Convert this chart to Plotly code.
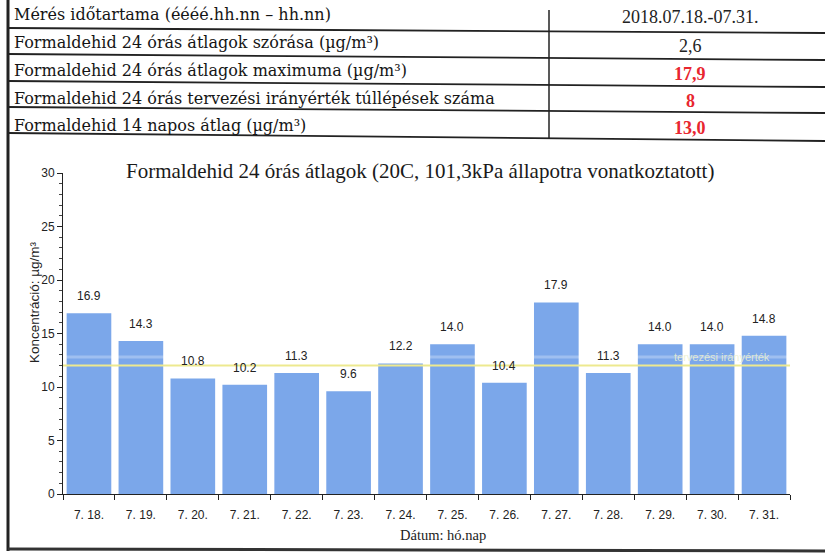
import plotly.graph_objects as go

# ---- data ----
dates = ["7. 18.", "7. 19.", "7. 20.", "7. 21.", "7. 22.", "7. 23.", "7. 24.",
         "7. 25.", "7. 26.", "7. 27.", "7. 28.", "7. 29.", "7. 30.", "7. 31."]
values = [16.9, 14.3, 10.8, 10.2, 11.3, 9.6, 12.2, 14.0, 10.4, 17.9, 11.3, 14.0, 14.0, 14.8]
guide_value = 12.0        # tervezési irányérték
avg14_value = 12.8        # faint 14-day average band

table_labels = [
    "Mérés időtartama (éééé.hh.nn – hh.nn)",
    "Formaldehid 24 órás átlagok szórása (µg/m³)",
    "Formaldehid 24 órás átlagok maximuma (µg/m³)",
    "Formaldehid 24 órás tervezési irányérték túllépések száma",
    "Formaldehid 14 napos átlag (µg/m³)",
]
table_values = ["2018.07.18.-07.31.", "2,6", "17,9", "8", "13,0"]
table_value_colors = ["#222222", "#222222", "#e8262f", "#e8262f", "#e8262f"]

# ---- geometry helpers (pixel -> paper) ----
W, H = 825, 559
L, R, T, B = 63, 35, 173, 65
PW, PH = W - L - R, H - T - B

def px(x):
    return (x - L) / PW

def py(y):
    return (H - B - y) / PH

serif = "Liberation Serif, DejaVu Serif, serif"
wserif = "DejaVu Serif, serif"
sans = "Liberation Sans, Arial, sans-serif"

fig = go.Figure()
fig.add_trace(go.Bar(
    x=dates, y=values,
    marker=dict(color="#7ba7ea", line=dict(width=0)),
    hoverinfo="x+y",
))

annotations = []
# data labels
for d, v in zip(dates, values):
    annotations.append(dict(x=d, y=v, xref="x", yref="y", text=f"{v:.1f}",
                            showarrow=False, yanchor="bottom", yshift=8,
                            font=dict(family=sans, size=12, color="#222")))

# table text
label_y = [14, 43, 71, 98, 125]
value_y = [17, 46, 74, 101, 128]
for lab, yy in zip(table_labels, label_y):
    annotations.append(dict(x=px(12), y=py(yy), xref="paper", yref="paper",
                            text=lab, showarrow=False, xanchor="left", yanchor="middle",
                            font=dict(family=wserif, size=16, color="#151515")))
for val, col, yy in zip(table_values, table_value_colors, value_y):
    bold = col != "#222222"
    annotations.append(dict(x=px(690), y=py(yy), xref="paper", yref="paper",
                            text=f"<b>{val}</b>" if bold else val, showarrow=False,
                            xanchor="center", yanchor="middle",
                            font=dict(family=serif, size=18, color=col)))

# chart title
annotations.append(dict(x=px(420), y=py(171), xref="paper", yref="paper",
                        text="Formaldehid 24 órás átlagok (20C, 101,3kPa állapotra vonatkoztatott)",
                        showarrow=False, xanchor="center", yanchor="middle",
                        font=dict(family=serif, size=21, color="#1a1a1a")))
# axis titles
annotations.append(dict(x=px(34), y=py(302), xref="paper", yref="paper",
                        text="Koncentráció: µg/m³", textangle=-90,
                        showarrow=False, xanchor="center", yanchor="middle",
                        font=dict(family=sans, size=13.5, color="#222")))
annotations.append(dict(x=px(443), y=py(535), xref="paper", yref="paper",
                        text="Dátum: hó.nap", showarrow=False,
                        xanchor="center", yanchor="middle",
                        font=dict(family=serif, size=14.5, color="#222")))
# faint guideline label
annotations.append(dict(x=dates[12], y=guide_value, xref="x", yref="y",
                        text="tervezési irányérték", showarrow=False,
                        yanchor="bottom", yshift=1, xshift=10,
                        font=dict(family=sans, size=11, color="rgba(236,240,205,0.85)")))

shapes = [
    # faint 14-day average band and guideline
    dict(type="line", xref="paper", yref="y", x0=0, x1=1, y0=avg14_value, y1=avg14_value,
         line=dict(color="rgba(255,255,255,0.28)", width=3), layer="above"),
    dict(type="line", xref="paper", yref="y", x0=0, x1=1, y0=guide_value, y1=guide_value,
         line=dict(color="#ede98f", width=2), layer="above"),
    # table lines
    dict(type="line", xref="paper", yref="paper", x0=px(8), x1=px(825), y0=py(28), y1=py(33),
         line=dict(color="#222", width=1.8)),
    dict(type="line", xref="paper", yref="paper", x0=px(8), x1=px(825), y0=py(54), y1=py(60),
         line=dict(color="#222", width=1.8)),
    dict(type="line", xref="paper", yref="paper", x0=px(8), x1=px(825), y0=py(81), y1=py(87),
         line=dict(color="#222", width=1.8)),
    dict(type="line", xref="paper", yref="paper", x0=px(8), x1=px(825), y0=py(107), y1=py(113),
         line=dict(color="#222", width=1.8)),
    dict(type="line", xref="paper", yref="paper", x0=px(8), x1=px(825), y0=py(133), y1=py(141),
         line=dict(color="#222", width=1.8)),
    dict(type="line", xref="paper", yref="paper", x0=px(549), x1=px(549), y0=py(10), y1=py(139),
         line=dict(color="#222", width=1.5)),
    # outer frame
    dict(type="line", xref="paper", yref="paper", x0=px(8), x1=px(8), y0=py(0), y1=py(551),
         line=dict(color="#222", width=3)),
    dict(type="line", xref="paper", yref="paper", x0=px(8), x1=px(825), y0=py(549), y1=py(551),
         line=dict(color="#333", width=3)),
]

fig.update_layout(
    width=W, height=H,
    margin=dict(l=L, r=R, t=T, b=B, autoexpand=False),
    paper_bgcolor="white", plot_bgcolor="white",
    showlegend=False,
    bargap=0.14,
    annotations=annotations,
    shapes=shapes,
    font=dict(family=sans, size=12, color="#222"),
)
fig.update_xaxes(
    type="category", range=[-0.5, 13.5], automargin=False,
    showline=True, linecolor="#222", linewidth=1,
    ticks="outside", ticklen=5, tickcolor="#222", tickson="boundaries",
    showgrid=False, zeroline=False,
    tickfont=dict(family=sans, size=12, color="#222"),
    ticklabelstandoff=10,
)
fig.update_yaxes(
    range=[0, 30], dtick=5, automargin=False,
    showline=True, linecolor="#222", linewidth=1,
    ticks="outside", ticklen=5, tickcolor="#222",
    minor=dict(dtick=1, ticks="outside", ticklen=3, tickcolor="#444"),
    showgrid=False, zeroline=False,
    tickfont=dict(family=sans, size=12, color="#222"),
)

fig.write_html("out.html", config={"displayModeBar": False},
               post_script="document.body.style.margin='0';")
